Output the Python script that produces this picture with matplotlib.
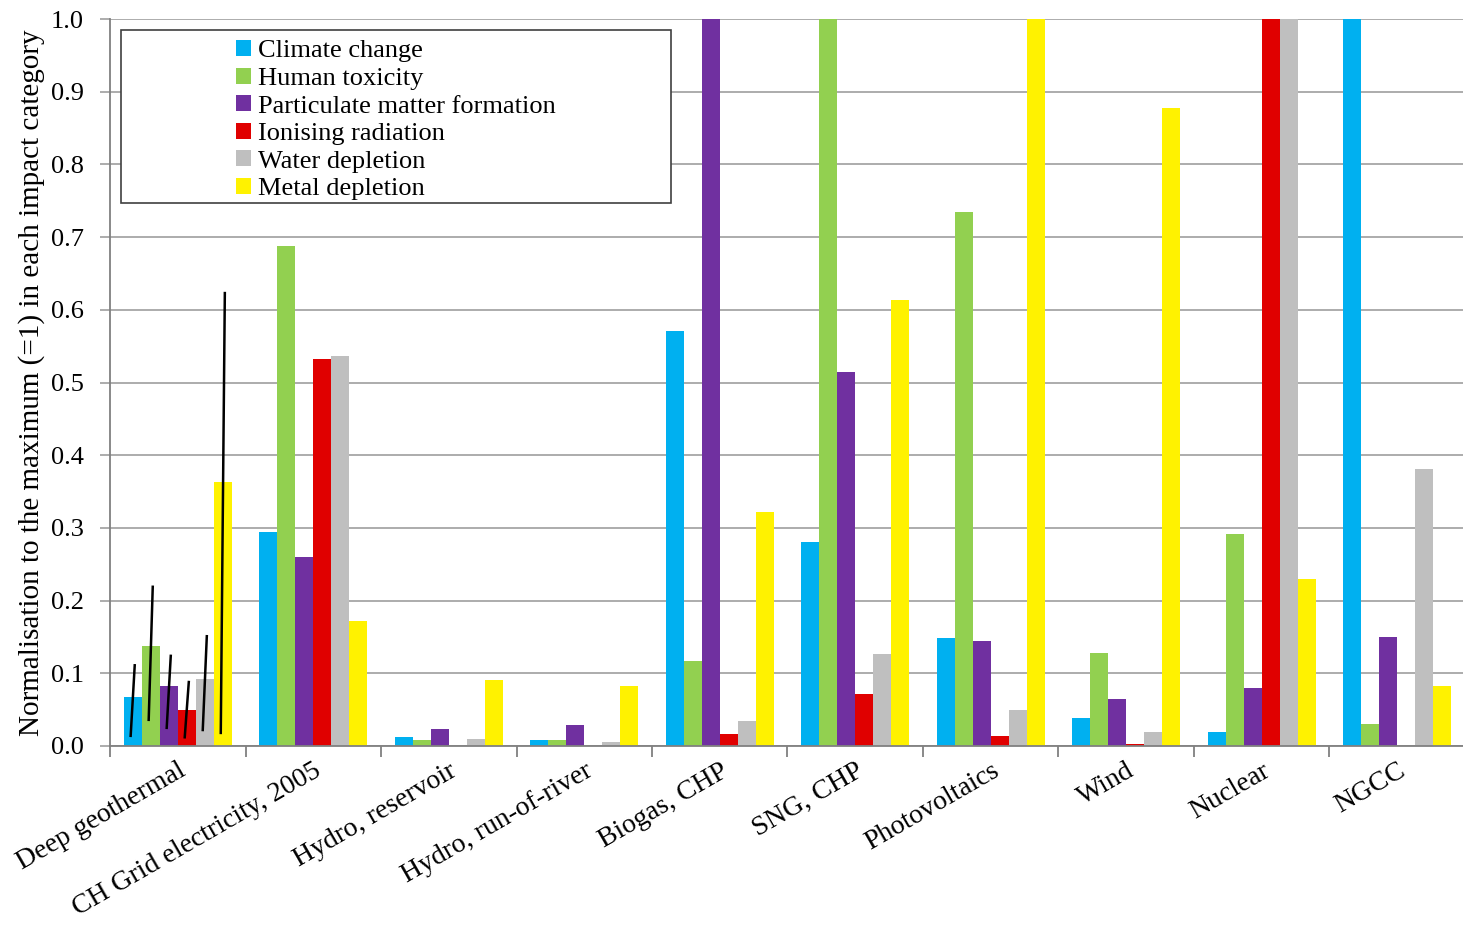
import numpy as np
import matplotlib.pyplot as plt
from matplotlib.patches import Rectangle

plt.rcParams['font.family'] = ['Liberation Serif', 'DejaVu Serif']

# Data
categories = ['Deep geothermal', 'CH Grid electricity, 2005', 'Hydro, reservoir',
              'Hydro, run-of-river', 'Biogas, CHP', 'SNG, CHP', 'Photovoltaics',
              'Wind', 'Nuclear', 'NGCC']
series = ['Climate change', 'Human toxicity', 'Particulate matter formation',
          'Ionising radiation', 'Water depletion', 'Metal depletion']
climate_change = [0.068, 0.295, 0.013, 0.008, 0.571, 0.281, 0.149, 0.038, 0.019, 1.0]
human_toxicity = [0.138, 0.688, 0.008, 0.008, 0.117, 1.0, 0.735, 0.128, 0.292, 0.030]
particulate = [0.082, 0.260, 0.023, 0.029, 1.0, 0.514, 0.145, 0.064, 0.080, 0.150]
ionising = [0.049, 0.532, 0.0, 0.0, 0.017, 0.072, 0.014, 0.003, 1.0, 0.0]
water = [0.092, 0.537, 0.009, 0.005, 0.034, 0.127, 0.050, 0.019, 1.0, 0.381]
metal = [0.363, 0.172, 0.091, 0.082, 0.322, 0.613, 1.0, 0.877, 0.230, 0.082]
# ranges for deep geothermal (one per impact category)
geo_low = [0.014, 0.036, 0.025, 0.012, 0.022, 0.018]
geo_high = [0.111, 0.219, 0.124, 0.088, 0.151, 0.623]

colors = ['#00B0F0', '#92D050', '#7030A0', '#E00000', '#BFBFBF', '#FFF200']
values = [climate_change, human_toxicity, particulate, ionising, water, metal]

fig = plt.figure(figsize=(14.63, 9.27), dpi=100)
ax = fig.add_axes([110 / 1463, 1 - 746 / 927, 1355 / 1463, 727 / 927])

x = np.arange(len(categories))
w = 0.133
for i, (vals, c, name) in enumerate(zip(values, colors, series)):
    ax.bar(x + (i - 2.5) * w, vals, w, color=c, label=name, zorder=2)

# slanted range lines on deep geothermal
for i in range(len(series)):
    xc = (i - 2.5) * w
    ax.plot([xc - 0.015, xc + 0.015], [geo_low[i], geo_high[i]],
            color='black', lw=1.8, zorder=3)

ax.set_xlim(-0.5, 9.5)
ax.set_ylim(0, 1.0)
ax.set_yticks(np.arange(0, 1.01, 0.1))
ax.set_yticklabels([f'{v:.1f}' for v in np.arange(0, 1.01, 0.1)], fontsize=19)
ax.yaxis.grid(True, color='#A6A6A6', lw=1.3, zorder=0)
ax.set_axisbelow(True)

ax.set_xticks(np.arange(-0.5, 9.5, 1.0))
ax.set_xticklabels([])
ax.set_xticks(x, minor=True)
ax.set_xticklabels(categories, minor=True, rotation=30, ha='right',
                   rotation_mode='anchor', fontsize=20)
ax.tick_params(axis='x', which='minor', length=0, pad=9)
ax.tick_params(axis='x', which='major', length=8, color='#808080', width=1.3)
ax.tick_params(axis='y', length=7, color='#A6A6A6', width=1.3, pad=12)

for s in ['top', 'right']:
    ax.spines[s].set_visible(False)
ax.spines['left'].set_color('#808080')
ax.spines['bottom'].set_color('#808080')
ax.spines['left'].set_linewidth(1.3)
ax.spines['bottom'].set_linewidth(1.3)

ax.set_ylabel('Normalisation to the maximum (=1) in each impact category', fontsize=21,
              labelpad=4)

# legend box
ax.add_patch(Rectangle((0.008, 0.747), 0.406, 0.238, transform=ax.transAxes,
                       facecolor='white', edgecolor='#404040', lw=1.2, zorder=4))
leg = ax.legend(loc='upper center', bbox_to_anchor=(0.211, 1.0), frameon=False,
                fontsize=19, handlelength=0.55, handleheight=0.55, handletextpad=0.25,
                labelspacing=0.2, borderpad=0.3)
leg.set_zorder(5)

fig.savefig('out.png', dpi=100)
